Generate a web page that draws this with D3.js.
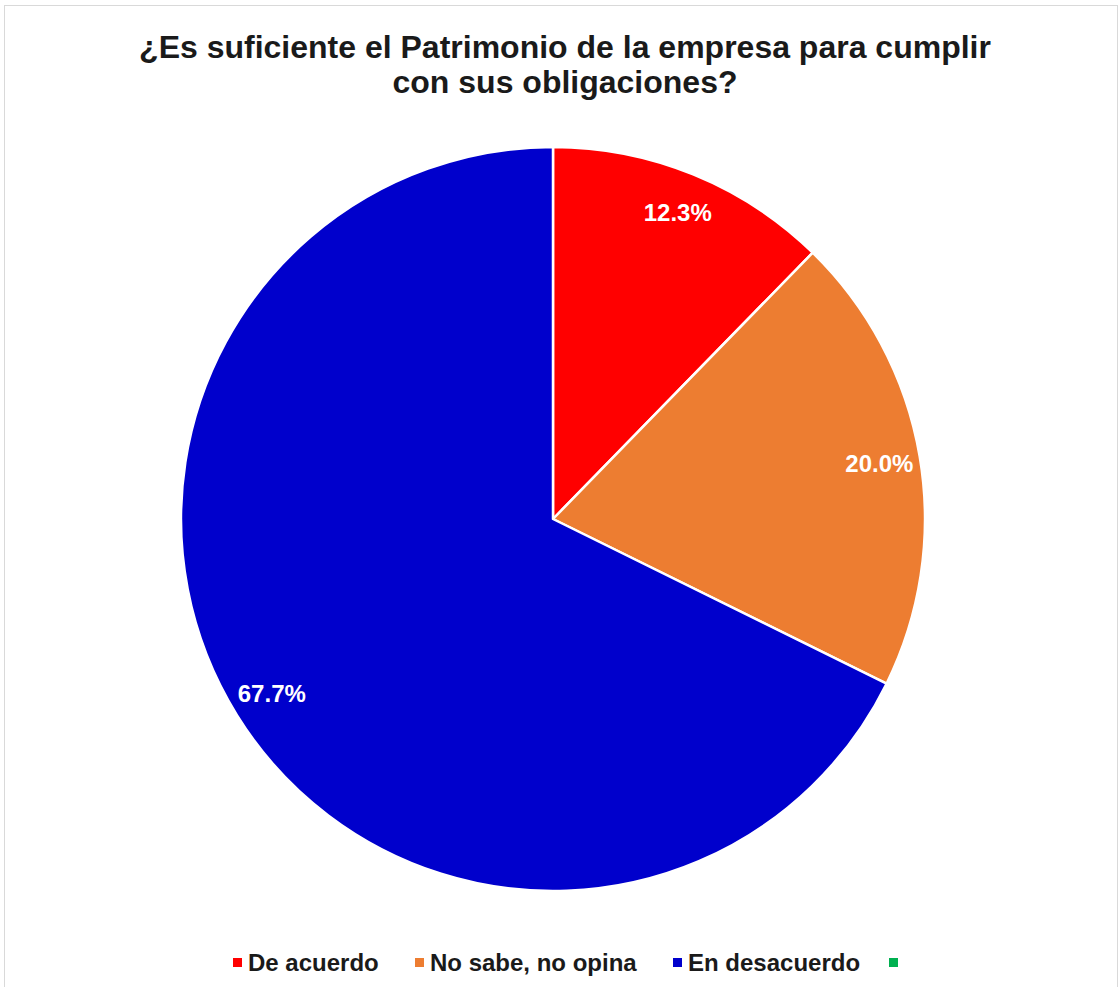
<!DOCTYPE html>
<html>
<head>
<meta charset="utf-8">
<script src="https://cdn.jsdelivr.net/npm/d3@7"></script>
<style>
  html, body { margin: 0; padding: 0; background: #fff; }
  svg { display: block; font-family: "Liberation Sans", Arial, sans-serif; }
</style>
</head>
<body>
<svg id="chart" width="1119" height="987"></svg>
<script>
// Survey answers and their shares (percent)
const categories = ["De acuerdo", "No sabe, no opina", "En desacuerdo", ""];
const values = [12.3, 20.0, 67.7, 0];
const colors = ["#FF0000", "#ED7D31", "#0000CC", "#00B050"];
const titleLines = ["¿Es suficiente el Patrimonio de la empresa para cumplir", "con sus obligaciones?"];

const svg = d3.select("#chart");

// chart area frame
svg.append("rect")
  .attr("x", 4.5).attr("y", 5.5)
  .attr("width", 1113).attr("height", 995)
  .attr("fill", "#fff")
  .attr("stroke", "#d9d9d9").attr("stroke-width", 1);

// title
const title = svg.append("text")
  .attr("text-anchor", "middle")
  .attr("font-weight", "bold")
  .attr("font-size", 32)
  .attr("fill", "#1a1a1a");
titleLines.forEach((t, i) => {
  title.append("tspan").attr("x", 565).attr("y", 58 + i * 35).text(t);
});

// pie
const cx = 553, cy = 519, r = 372;
const data = categories.map((c, i) => ({ cat: c, value: values[i], color: colors[i] }));
const pie = d3.pie().sort(null).value(d => d.value);
const arcs = pie(data);
const arc = d3.arc().innerRadius(0).outerRadius(r);
const labelArc = d3.arc().innerRadius(r * 0.89).outerRadius(r * 0.89);

const g = svg.append("g").attr("transform", `translate(${cx},${cy})`);
g.selectAll("path.slice")
  .data(arcs.filter(d => d.data.value > 0))
  .join("path")
  .attr("class", "slice")
  .attr("d", arc)
  .attr("fill", d => d.data.color)
  .attr("stroke", "#fff")
  .attr("stroke-width", 2.5)
  .attr("stroke-linejoin", "round");

g.selectAll("text.lbl")
  .data(arcs.filter(d => d.data.value > 0))
  .join("text")
  .attr("class", "lbl")
  .attr("transform", d => {
    const [x, y] = labelArc.centroid(d);
    return `translate(${x},${y})`;
  })
  .attr("text-anchor", "middle")
  .attr("dy", "0.35em")
  .attr("font-weight", "bold")
  .attr("font-size", 24)
  .attr("fill", "#fff")
  .text(d => d.data.value.toFixed(1) + "%");

// legend
const legendX = [233, 415, 673, 889];
const legend = svg.append("g");
data.forEach((d, i) => {
  legend.append("rect")
    .attr("x", legendX[i]).attr("y", 958)
    .attr("width", 9).attr("height", 9)
    .attr("fill", d.color);
  if (d.cat) {
    legend.append("text")
      .attr("x", legendX[i] + 15).attr("y", 971)
      .attr("font-weight", "bold")
      .attr("font-size", 24)
      .attr("fill", "#1a1a1a")
      .text(d.cat);
  }
});
</script>
</body>
</html>
